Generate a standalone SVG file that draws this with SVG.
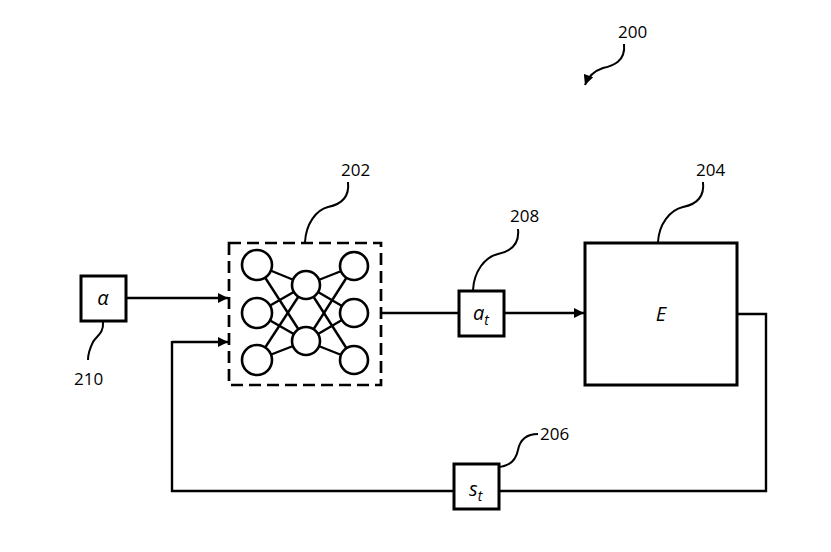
<svg xmlns="http://www.w3.org/2000/svg" width="831" height="552" viewBox="0 0 831 552">
<defs>
<style>
.box{fill:#fff;stroke:#000;stroke-width:3}
.ln{fill:none;stroke:#000;stroke-width:2.4}
.lead{fill:none;stroke:#000;stroke-width:2}
.lbl{font-family:"Open Sans","Liberation Sans",sans-serif;font-size:17px;fill:#000}
.sym{font-family:"Open Sans","Liberation Sans",sans-serif;font-style:italic;font-size:20px;fill:#000}
.nn{fill:#fff;stroke:#000;stroke-width:2.6}
.nl{stroke:#000;stroke-width:2.4}
</style>
<marker id="ah" viewBox="0 0 10 10" refX="10" refY="5" markerWidth="11" markerHeight="10" markerUnits="userSpaceOnUse" orient="auto">
<path d="M0,0 L10,5 L0,10 z" fill="#000"/>
</marker>
</defs>
<rect width="831" height="552" fill="#fff"/>

<g id="ref200">
<text class="lbl" x="618" y="38">200</text>
<path class="lead" d="M624,44 C626,62 612,66 603,68 C594,71 588,77 585,85" marker-end="url(#ah)"/>
</g>

<g id="connectors">
<path class="ln" d="M126,298 L228,298" marker-end="url(#ah)"/>
<path class="ln" d="M172,342 L228,342" marker-end="url(#ah)"/>
<path class="ln" d="M381,313 L459,313"/>
<path class="ln" d="M504,313 L584,313" marker-end="url(#ah)"/>
<path class="ln" d="M737,314 L766,314 L766,491 L499,491"/>
<path class="ln" d="M454,491 L172,491 L172,341"/>
</g>

<g id="node202">
<rect x="229" y="243" width="152" height="142" fill="none" stroke="#000" stroke-width="2.7" stroke-dasharray="12,6"/>
<g>
<line class="nl" x1="257" y1="265" x2="306" y2="285"/>
<line class="nl" x1="257" y1="265" x2="306" y2="341"/>
<line class="nl" x1="257" y1="313" x2="306" y2="285"/>
<line class="nl" x1="257" y1="313" x2="306" y2="341"/>
<line class="nl" x1="257" y1="360" x2="306" y2="285"/>
<line class="nl" x1="257" y1="360" x2="306" y2="341"/>
<line class="nl" x1="354" y1="266" x2="306" y2="285"/>
<line class="nl" x1="354" y1="266" x2="306" y2="341"/>
<line class="nl" x1="354" y1="313" x2="306" y2="285"/>
<line class="nl" x1="354" y1="313" x2="306" y2="341"/>
<line class="nl" x1="354" y1="360" x2="306" y2="285"/>
<line class="nl" x1="354" y1="360" x2="306" y2="341"/>
</g>
<circle class="nn" cx="257" cy="265" r="15"/>
<circle class="nn" cx="257" cy="313" r="15"/>
<circle class="nn" cx="257" cy="360" r="15"/>
<circle class="nn" cx="306" cy="285" r="14"/>
<circle class="nn" cx="306" cy="341" r="14"/>
<circle class="nn" cx="354" cy="266" r="14"/>
<circle class="nn" cx="354" cy="313" r="14"/>
<circle class="nn" cx="354" cy="360" r="14"/>
<text class="lbl" x="341" y="176">202</text>
<path class="lead" d="M348,182 C350,200 338,205 328,207 C316,210 306,224 305,242"/>
</g>

<g id="node204">
<rect class="box" x="585" y="243" width="152" height="142"/>
<text class="sym" x="661" y="321" text-anchor="middle">E</text>
<text class="lbl" x="696" y="176">204</text>
<path class="lead" d="M703,182 C705,200 693,205 683,207 C670,210 659,224 658,242"/>
</g>

<g id="node208">
<rect class="box" x="459" y="291" width="45" height="45"/>
<text class="sym" x="473" y="320">a<tspan font-size="14" dy="5">t</tspan></text>
<text class="lbl" x="510" y="222">208</text>
<path class="lead" d="M518,229 C520,247 508,252 498,254 C485,257 474,271 473,290"/>
</g>

<g id="node206">
<rect class="box" x="454" y="464" width="45" height="45"/>
<text class="sym" x="469" y="496">s<tspan font-size="14" dy="5">t</tspan></text>
<text class="lbl" x="540" y="440">206</text>
<path class="lead" d="M538,434 C526,434 520,440 518,450 C516,460 510,466 499,467"/>
</g>

<g id="node210">
<rect class="box" x="81" y="276" width="45" height="45"/>
<text class="sym" x="103" y="305" text-anchor="middle">α</text>
<text class="lbl" x="74" y="385">210</text>
<path class="lead" d="M103,322 C104,334 96,336 93,342 C90,348 88,354 88,360"/>
</g>
</svg>
